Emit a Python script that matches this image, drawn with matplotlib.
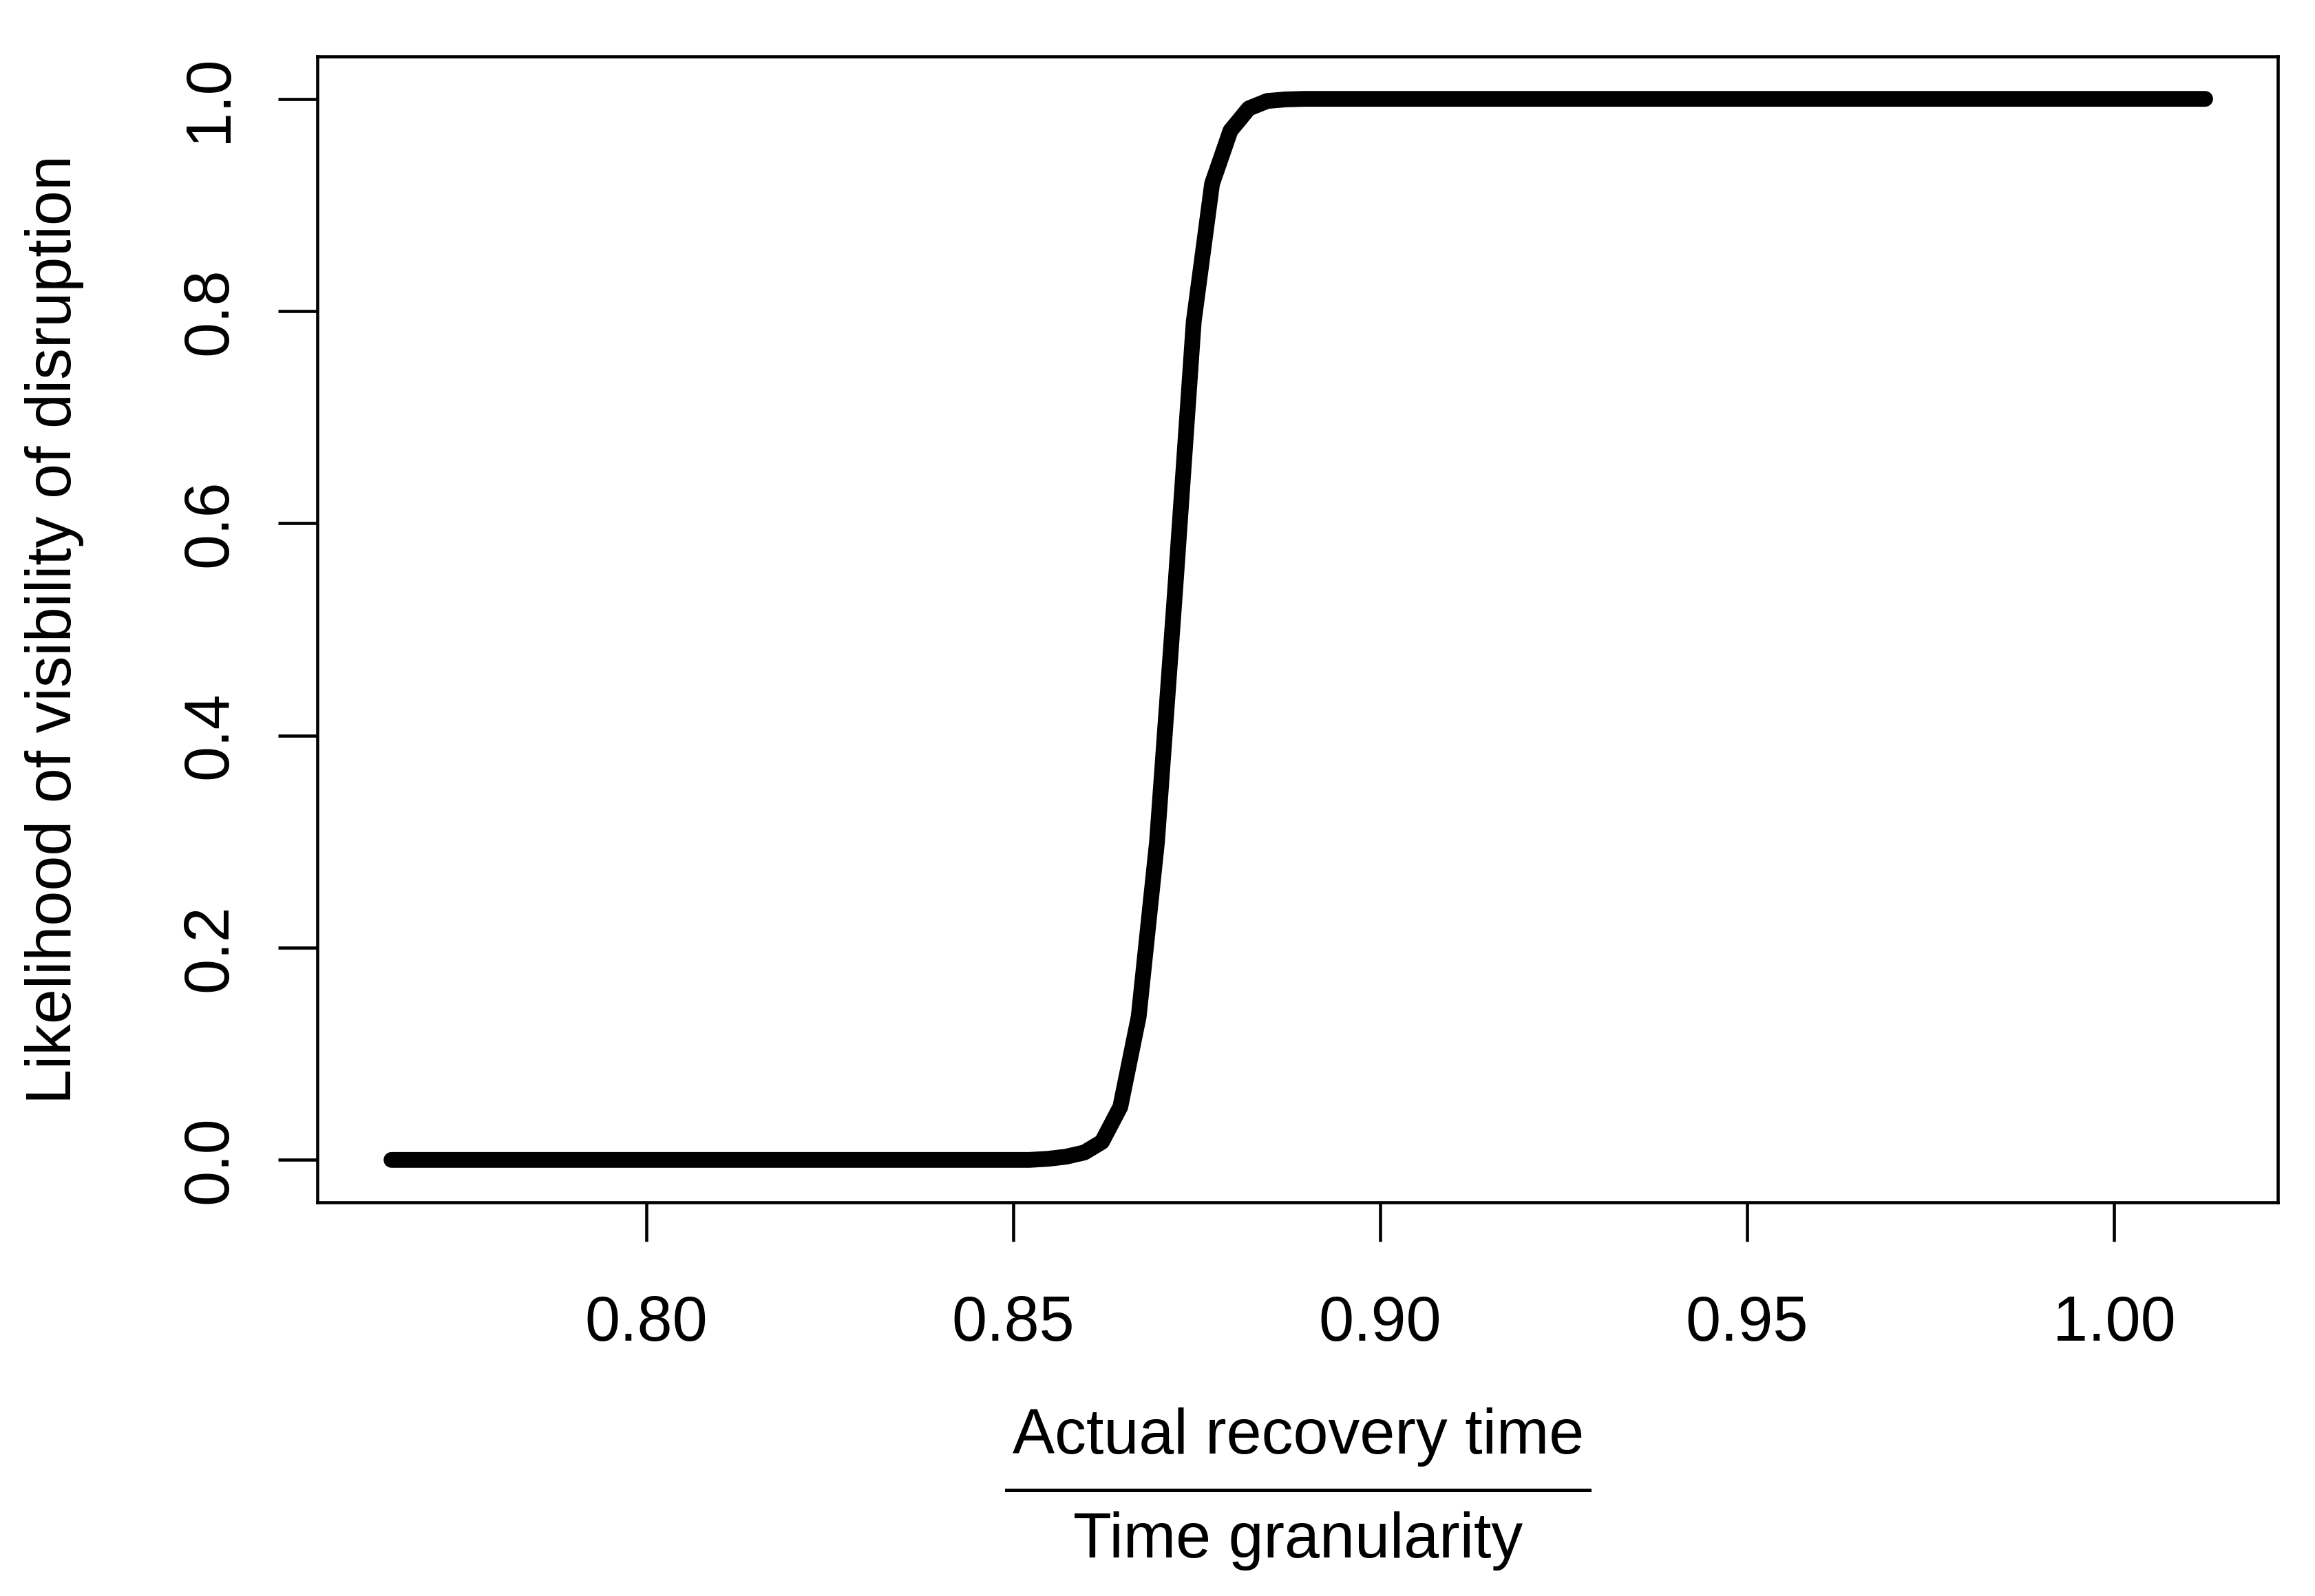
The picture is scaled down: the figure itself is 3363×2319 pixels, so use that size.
import numpy as np
import matplotlib
matplotlib.use("Agg")
import matplotlib.pyplot as plt
from matplotlib.lines import Line2D

plt.rcParams['font.family'] = ['Liberation Sans', 'DejaVu Sans']
plt.rcParams['font.size'] = 22

# curve (ratio -> likelihood)
ratio = [0.7653, 0.8522, 0.8547, 0.8572, 0.8597, 0.8621, 0.8646, 0.8671,
         0.8696, 0.8721, 0.8746, 0.8771, 0.8796, 0.8821, 0.8846, 0.8871,
         0.8896, 1.0124]
likelihood = [0.0, 0.0, 0.001, 0.003, 0.007, 0.017, 0.05, 0.135,
              0.30, 0.54, 0.79, 0.92, 0.97, 0.991, 0.998, 0.9995,
              1.0, 1.0]

x_ticks = [0.80, 0.85, 0.90, 0.95, 1.00]
x_tick_labels = ["0.80", "0.85", "0.90", "0.95", "1.00"]
y_ticks = [0.0, 0.2, 0.4, 0.6, 0.8, 1.0]
y_tick_labels = ["0.0", "0.2", "0.4", "0.6", "0.8", "1.0"]

W, H = 3363, 2319
fig = plt.figure(figsize=(W / 300, H / 300), dpi=300)
ax = fig.add_axes([461 / W, 1 - 1747 / H, (3309 - 461) / W, (1747 - 82) / H])

ax.plot(ratio, likelihood, color="black", lw=5.5, solid_capstyle="round",
        solid_joinstyle="round")

ax.set_xlim(0.7552, 1.0223)
ax.set_ylim(-0.04, 1.04)
ax.set_xticks(x_ticks)
ax.set_xticklabels(x_tick_labels)
ax.set_yticks(y_ticks)
ax.set_yticklabels(y_tick_labels, rotation=90, va="center")

for s in ax.spines.values():
  s.set_linewidth(1.1)
ax.tick_params(axis="both", direction="out", length=13.7, width=1.1)
ax.tick_params(axis="x", pad=18.5)
ax.tick_params(axis="y", pad=13.4)

# y label
fig.text(103 / W, 1 - 914.5 / H, "Likelihood of visibility of disruption",
         rotation=90, rotation_mode="anchor", ha="center", va="baseline")

# x label written as a fraction
cx = 1886 / W
fig.text(cx, 1 - 2111.7 / H, "Actual recovery time", ha="center", va="baseline")
fig.text(cx, 1 - 2263.3 / H, "Time granularity", ha="center", va="baseline")
fig.add_artist(Line2D([1462 / W, 2309 / W], [1 - 2165 / H, 1 - 2165 / H],
                      transform=fig.transFigure, color="black", lw=1.2))

fig.savefig("out.png", dpi=300)
